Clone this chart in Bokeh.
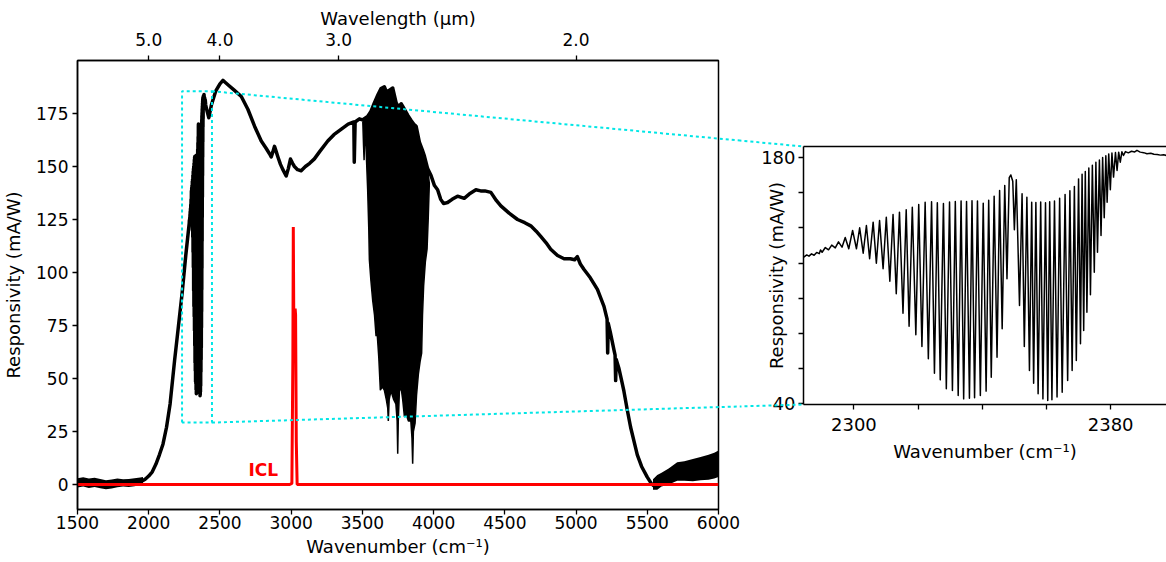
from bokeh.plotting import figure
from bokeh.models import (LinearAxis, FixedTicker, CustomJSTickFormatter, Label, Range1d)
from bokeh.layouts import row
from bokeh.embed import file_html
from bokeh.resources import INLINE

FONT = "DejaVu Sans"
CYAN = "#00e6e6"

# ---------------- data ----------------
# main responsivity curve, left part (before the CO2 band)
left_wn = [1500, 1550, 1600, 1650, 1700, 1750, 1800, 1850, 1900, 1950, 1975, 2000,
           2025, 2050, 2075, 2100, 2125, 2150, 2182, 2200, 2234, 2260, 2284]
left_val = [0.8, 1.2, 0.6, 0.4, -0.3, 0.2, 0.6, 0.5, 0.8, 1.5, 2.5, 4,
            6, 9.5, 14, 19, 27, 38, 58.8, 69.5, 90, 108, 123]

# CO2 absorption band (also shown in the inset)
co2_wn = [2284.4, 2285.3, 2286.0, 2286.8, 2287.6, 2288.4, 2289.2, 2289.6, 2290.1, 2291.1,
          2292.1, 2293.1, 2294.2, 2295.2, 2296.3, 2297.3, 2298.4, 2299.6, 2300.8, 2301.8,
          2302.9, 2303.9, 2304.9, 2306.0, 2307.0, 2308.0, 2309.1, 2310.1, 2311.2, 2312.2,
          2313.2, 2314.2, 2315.3, 2316.3, 2317.2, 2318.2, 2319.3, 2320.2, 2321.2, 2322.2,
          2323.2, 2324.2, 2325.1, 2326.0, 2326.9, 2327.9, 2328.8, 2329.8, 2330.7, 2331.6,
          2332.5, 2333.4, 2334.2, 2335.1, 2336.0, 2336.8, 2337.6, 2338.5, 2339.4, 2340.3,
          2341.2, 2342.0, 2342.8, 2343.7, 2344.6, 2345.4, 2346.2, 2347.0, 2347.7, 2348.4,
          2348.9, 2349.5, 2350.0, 2350.6, 2351.6, 2352.4, 2353.1, 2353.9, 2354.7, 2355.4,
          2356.0, 2356.7, 2357.4, 2358.2, 2358.9, 2359.7, 2360.4, 2361.0, 2361.7, 2362.5,
          2363.3, 2364.1, 2364.9, 2365.8, 2366.6, 2367.3, 2368.0, 2368.7, 2369.3, 2370.0,
          2370.6, 2371.1, 2371.6, 2372.1, 2372.6, 2373.2, 2373.7, 2374.3, 2374.9, 2375.4,
          2375.9, 2376.5, 2377.0, 2377.5, 2378.0, 2378.5, 2378.9, 2379.4, 2379.9, 2380.4,
          2380.9, 2381.5, 2382.0, 2382.5, 2383.0, 2383.5, 2384.0, 2384.6, 2385.5, 2386.5,
          2387.5, 2388.2, 2389.2, 2390.3, 2391.3, 2392.5, 2393.5, 2394.5, 2395.5, 2396.5,
          2397.4]
co2_val = [123.3, 124.6, 123.9, 125.2, 124.4, 126.0, 125.3, 127.4, 126.1, 128.8,
           127.5, 130.2, 128.6, 132.0, 129.0, 134.5, 128.1, 138.5, 128.1, 140.0,
           125.6, 141.3, 122.4, 143.2, 119.9, 144.1, 116.7, 146.0, 109.7, 147.6,
           102.5, 148.9, 91.5, 150.2, 84.1, 151.7, 79.2, 153.2, 72.6, 154.5,
           65.6, 154.8, 57.4, 154.2, 53.6, 153.8, 48.5, 154.6, 47.6, 155.0,
           44.7, 155.3, 42.8, 155.0, 43.2, 155.4, 43.4, 155.2, 44.7, 154.0,
           47.2, 155.6, 55.1, 158.0, 66.5, 161.2, 82.6, 164.0, 111.0, 168.5,
           170.0, 166.5, 138.9, 167.3, 95.9, 159.3, 72.6, 157.4, 58.9, 154.5,
           51.7, 154.4, 45.7, 154.6, 42.8, 154.3, 41.9, 154.8, 42.3, 155.2,
           43.8, 156.8, 46.6, 158.9, 53.2, 161.0, 58.9, 163.5, 64.6, 167.8,
           74.1, 170.5, 81.6, 172.0, 92.0, 174.0, 102.0, 175.5, 114.8, 177.2,
           126.1, 178.5, 135.6, 180.0, 145.7, 181.0, 154.5, 182.0, 161.6, 182.5,
           168.8, 182.8, 172.6, 183.0, 177.3, 183.2, 181.1, 183.3, 182.6, 183.5,
           183.1, 184.0, 183.0, 182.7, 182.1, 182.4, 181.8, 181.7, 181.3, 181.5,
           181.1]

# main responsivity curve, right part
right_wn = [2400, 2410, 2422, 2440, 2470, 2500, 2521, 2540, 2560, 2600, 2650, 2696, 2743,
            2790, 2825, 2848, 2860, 2872, 2883, 2895, 2907, 2925, 2942, 2965, 2980, 2995,
            3010, 3023, 3045, 3070, 3100, 3130, 3163, 3200, 3257, 3300, 3350, 3400, 3440,
            3443, 3449, 3479, 3500, 3537, 3560, 3584, 3610, 3631, 3654, 3670, 3690, 3713,
            3737, 3755, 3772, 3795, 3820, 3842, 3860, 3877, 3900, 3920, 3935, 3958, 3982,
            4006, 4028, 4050, 4070, 4098, 4130, 4168, 4215, 4250, 4297, 4330, 4360, 4402,
            4440, 4472, 4530, 4589, 4640, 4682, 4720, 4752, 4790, 4822, 4870, 4916, 4960,
            4990, 5009, 5030, 5056, 5100, 5150, 5196, 5218, 5222, 5226, 5240, 5266, 5274,
            5278, 5282, 5300, 5320, 5336, 5360, 5383, 5410, 5430, 5460, 5500, 5530, 5558,
            5600, 5650, 5710, 5800, 5874, 5950, 6000]
right_val = [179, 176, 173, 179, 185.5, 189, 190.6, 189.5, 188.3, 186, 183, 177, 169,
             162, 158.5, 156, 154.5, 157, 159.5, 157, 154.5, 151, 148.5, 145.5, 149, 153.5,
             151.5, 150, 148.5, 148, 150, 151.5, 153.6, 157, 162, 165, 167.5, 170, 171,
             152, 171, 172.5, 172, 173.6, 176, 180, 184, 186.8, 187.6, 185, 186, 187,
             180, 178, 179.6, 177, 174, 171.7, 170, 169, 161.5, 158, 155, 149, 145.7,
             141, 139, 134.5, 132.5, 133, 134.5, 136, 135, 137, 139, 138.5, 138.5, 137.8,
             134, 131.4, 128, 125, 123.5, 122, 119.5, 117, 114, 111, 108, 106.5, 106.5,
             106, 107.5, 104, 101.4, 97.5, 92, 84, 78, 62, 76, 72, 63.5, 61,
             49, 59, 55, 49, 44, 35, 27, 19.5, 14, 8.5, 3.5, 0.3, -1.3,
             1.5, 3.5, 6, 6.8, 7.5, 8.5, 9.5]

# water absorption band: lower edge of the dense region
water_bot_wn = [3503, 3508, 3512, 3516, 3525, 3537, 3545, 3549, 3560, 3572, 3585, 3596,
                3603, 3615, 3626, 3640, 3654, 3668, 3678, 3682, 3688, 3700, 3706, 3720,
                3735, 3744, 3748, 3752, 3760, 3771, 3783, 3795, 3808, 3823, 3840, 3848,
                3853, 3858, 3870, 3880, 3893, 3905, 3916, 3922, 3930, 3942, 3954, 3962,
                3970]
water_bot_val = [171, 160, 153, 165, 160, 139, 120, 106, 96, 87, 80, 70,
                 72, 60, 44.5, 46, 44.5, 40, 36, 30, 40, 44, 43, 40,
                 38, 30, 14.5, 30, 44, 46, 40, 32, 33, 30, 30, 22,
                 9.8, 25, 29, 42, 52, 58, 62, 80, 93.6, 105, 111, 125,
                 142]

# noise bands at both ends of the spectrum
start_noise_wn = [1500, 1540, 1580, 1620, 1660, 1700, 1740, 1780, 1820, 1860, 1900, 1940, 1960]
start_noise_top = [3.0, 3.4, 2.8, 3.2, 2.6, 2.0, 2.4, 2.8, 2.5, 2.6, 2.9, 3.3, 3.5]
start_noise_bot = [-1.4, -1.0, -1.6, -1.2, -1.8, -2.2, -1.9, -1.3, -1.0, -1.2, -0.8, -0.2, 0.5]
end_noise_wn = [5540, 5570, 5600, 5650, 5710, 5760, 5820, 5874, 5930, 5970, 6000]
end_noise_top = [2.5, 4.5, 5.5, 7.5, 10.5, 11, 12, 13, 14, 15, 16]
end_noise_bot = [-2.5, -2.5, -1, 0, 1.8, 1.8, 1.5, 2, 2.2, 2.8, 3.5]

# ICL emission
icl_wn = [1500, 2990, 3005, 3012, 3015, 3019, 3023, 3028, 3031, 3036, 3042, 6000]
icl_val = [0, 0, 0.5, 60, 121.5, 70, 60, 83, 80, 20, 0, 0]
icl_label = "ICL"
icl_label_pos = (2700, 6.6)

# zoom rectangle (data coords of the main plot)
rect_wn = (2234, 2444)
rect_val = (29.2, 185.5)

# axes
main_xticks = [1500, 2000, 2500, 3000, 3500, 4000, 4500, 5000, 5500, 6000]
main_yticks = [0, 25, 50, 75, 100, 125, 150, 175]
wavelength_ticks_um = [5.0, 4.0, 3.0, 2.0]
inset_xticks = [2300, 2380]
inset_xminor = [2320, 2340, 2360]
inset_yticks = [40, 180]
inset_yminor = [60, 80, 100, 120, 140, 160]

X_RANGE = (1500, 6000)
Y_RANGE = (-11.8, 200.0)
INS_X = (2284.3, 2397.4)
INS_Y = (39.6, 186.2)

# ---------------- layout (pixels) ----------------
W, H = 1166, 562
M_L, M_R, M_T, M_B = 76, 718, 60, 509
W_MAIN = 740
I_L, I_R, I_T, I_B = 803, 1166, 146, 404


def main_px(wn, v):
    x = M_L + (wn - X_RANGE[0]) / (X_RANGE[1] - X_RANGE[0]) * (M_R - M_L)
    y = M_B - (v - Y_RANGE[0]) / (Y_RANGE[1] - Y_RANGE[0]) * (M_B - M_T)
    return x, y


def main_data(x, y):
    wn = X_RANGE[0] + (x - M_L) / (M_R - M_L) * (X_RANGE[1] - X_RANGE[0])
    v = Y_RANGE[1] - (y - M_T) / (M_B - M_T) * (Y_RANGE[1] - Y_RANGE[0])
    return wn, v


def ins_data(x, y):
    wn = INS_X[0] + (x - I_L) / (I_R - I_L) * (INS_X[1] - INS_X[0])
    v = INS_Y[1] - (y - I_T) / (I_B - I_T) * (INS_Y[1] - INS_Y[0])
    return wn, v


def style_axis(ax, size, title_size):
    ax.axis_line_width = 1.5
    ax.axis_line_color = "black"
    ax.major_tick_out = 5
    ax.major_tick_in = 0
    ax.minor_tick_out = 5
    ax.minor_tick_in = 0
    ax.major_tick_line_width = 1.3
    ax.minor_tick_line_width = 1.3
    ax.major_label_text_font = FONT
    ax.major_label_text_font_size = size
    ax.major_label_text_color = "black"
    ax.axis_label_text_font = FONT
    ax.axis_label_text_font_style = "normal"
    ax.axis_label_text_font_size = title_size
    ax.axis_label_text_color = "black"


# ---------------- main figure ----------------
p = figure(width=W_MAIN, height=H, x_range=Range1d(*X_RANGE), y_range=Range1d(*Y_RANGE),
           output_backend="svg", toolbar_location=None,
           min_border_left=M_L, min_border_right=W_MAIN - M_R,
           min_border_top=M_T, min_border_bottom=H - M_B)
p.frame_align = False
p.xgrid.visible = False
p.ygrid.visible = False
p.outline_line_color = "black"
p.outline_line_width = 1.5
p.background_fill_color = "white"
p.border_fill_color = "white"

p.xaxis.ticker = FixedTicker(ticks=main_xticks, minor_ticks=[])
p.yaxis.ticker = FixedTicker(ticks=main_yticks, minor_ticks=[])
p.xaxis.axis_label = "Wavenumber (cm\u207b\u00b9)"
p.yaxis.axis_label = "Responsivity (mA/W)"
for ax in p.xaxis + p.yaxis:
    style_axis(ax, "17px", "18px")
p.xaxis.major_label_standoff = 1
p.xaxis.axis_label_standoff = 4
p.yaxis.major_label_standoff = 4
p.yaxis.axis_label_standoff = 9

top_axis = LinearAxis(
    ticker=FixedTicker(ticks=[10000.0 / w for w in wavelength_ticks_um], minor_ticks=[]),
    formatter=CustomJSTickFormatter(code="return (10000/tick).toFixed(1);"),
    axis_label="Wavelength (\u03bcm)")
style_axis(top_axis, "17px", "18px")
top_axis.major_label_standoff = 10
top_axis.axis_label_standoff = 1
p.add_layout(top_axis, "above")

main_wn = left_wn + co2_wn + right_wn
main_val = left_val + co2_val + right_val
p.line(main_wn, main_val, line_color="black", line_width=3.5, line_join="round")

p.varea(x=start_noise_wn, y1=start_noise_bot, y2=start_noise_top, fill_color="black")
p.varea(x=end_noise_wn, y1=end_noise_bot, y2=end_noise_top, fill_color="black")

water_top = [(w, v) for w, v in zip(right_wn, right_val) if water_bot_wn[0] <= w <= water_bot_wn[-1]]
poly_x = [w for w, _ in water_top] + water_bot_wn[::-1]
poly_y = [v for _, v in water_top] + water_bot_val[::-1]
p.patch(poly_x, poly_y, fill_color="black", line_color="black", line_width=1.5)

p.line(icl_wn, icl_val, line_color="red", line_width=3)
p.add_layout(Label(x=icl_label_pos[0], y=icl_label_pos[1], text=icl_label, text_color="red",
                   text_font=FONT, text_font_style="bold", text_font_size="17px",
                   text_align="left", text_baseline="middle"))

# zoom rectangle
rx = [rect_wn[0], rect_wn[0], rect_wn[1], rect_wn[1], rect_wn[0]]
ry = [rect_val[0], rect_val[1], rect_val[1], rect_val[0], rect_val[0]]
p.line(rx, ry, line_color=CYAN, line_width=2, line_dash="3 3")

# connecting lines (cross both canvases)
corners_main = [(rect_wn[1], rect_val[1]), (rect_wn[1], rect_val[0])]
corners_ins_px = [(I_L, I_T), (I_L, I_B)]
q_links = []
for (cw, cv), (bx, by) in zip(corners_main, corners_ins_px):
    ax_, ay_ = main_px(cw, cv)
    slope = (by - ay_) / (bx - ax_)
    X1 = W_MAIN + 20
    Y1 = ay_ + (X1 - ax_) * slope
    ew, ev = main_data(X1, Y1)
    p.line([cw, ew], [cv, ev], line_color=CYAN, line_width=2, line_dash="3 3", level="overlay")
    X0 = W_MAIN - 20
    Y0 = ay_ + (X0 - ax_) * slope
    sw, sv = ins_data(X0, Y0)
    tw, tv = ins_data(bx, by)
    q_links.append(([sw, tw], [sv, tv]))

# ---------------- inset figure ----------------
q = figure(width=W - W_MAIN, height=H, x_range=Range1d(*INS_X), y_range=Range1d(*INS_Y),
           output_backend="svg", toolbar_location=None,
           min_border_left=I_L - W_MAIN, min_border_right=0,
           min_border_top=I_T, min_border_bottom=H - I_B)
q.frame_align = False
q.xgrid.visible = False
q.ygrid.visible = False
q.outline_line_color = None
q.background_fill_color = "white"
q.border_fill_color = "white"
q.xaxis.ticker = FixedTicker(ticks=inset_xticks, minor_ticks=inset_xminor)
q.yaxis.ticker = FixedTicker(ticks=inset_yticks, minor_ticks=inset_yminor)
q.xaxis.axis_label = "Wavenumber (cm\u207b\u00b9)"
q.yaxis.axis_label = "Responsivity (mA/W)"
for ax in q.xaxis + q.yaxis:
    style_axis(ax, "18px", "18px")
q.xaxis.major_label_standoff = 8
q.xaxis.axis_label_standoff = 7
q.yaxis.major_label_standoff = 3
q.yaxis.axis_label_standoff = -29
q_top = LinearAxis(ticker=FixedTicker(ticks=[], minor_ticks=[]), major_label_text_font_size="0px")
q_top.axis_line_width = 1.5
q_top.major_tick_out = 0
q.add_layout(q_top, "above")

q.line(co2_wn, co2_val, line_color="black", line_width=1.5, line_join="round")
for xs, ys in q_links:
    q.line(xs, ys, line_color=CYAN, line_width=2, line_dash="3 3", level="overlay")

layout = row(p, q)
open("out.html", "w").write(file_html(layout, INLINE))
